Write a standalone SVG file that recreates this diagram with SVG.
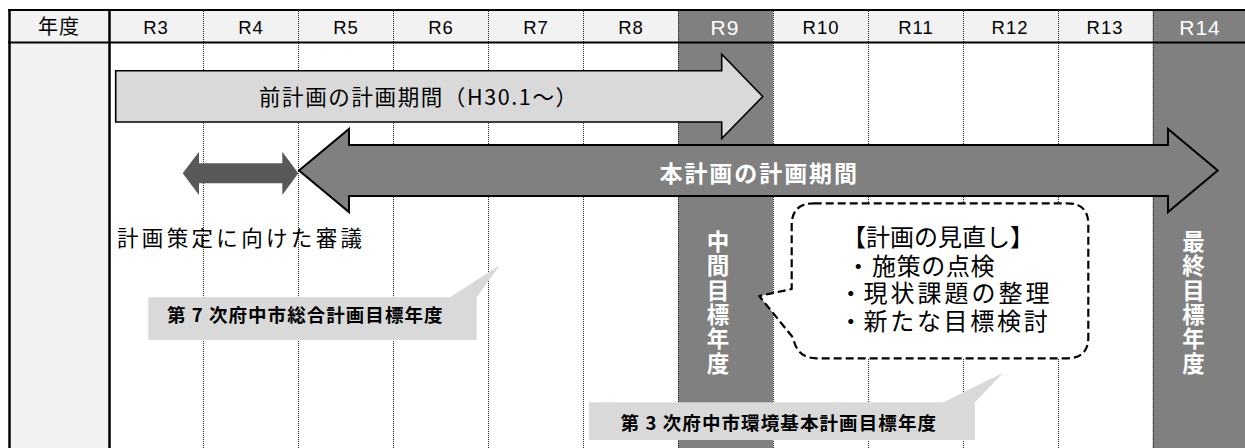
<svg xmlns="http://www.w3.org/2000/svg" width="1245" height="448" viewBox="0 0 1245 448">
<style>
.jp{font-family:"Noto Sans CJK JP","Noto Sans CJK SC",sans-serif;}
.hd{font-family:"Liberation Sans","Noto Sans CJK JP",sans-serif;font-size:18.5px;fill:#000;text-anchor:middle;letter-spacing:1px;}
.hdw{font-family:"Liberation Sans","Noto Sans CJK JP",sans-serif;font-size:21px;fill:#fff;text-anchor:middle;letter-spacing:1px;}
.grid{stroke:#222;stroke-width:1;stroke-dasharray:1 1;fill:none;}
.thick{stroke:#000;fill:none;}
.vt{font-family:"Noto Sans CJK JP",sans-serif;font-size:22.5px;font-weight:bold;fill:#fff;writing-mode:vertical-rl;letter-spacing:1.9px;}
.cb{font-family:"Noto Sans CJK JP",sans-serif;font-size:18.5px;font-weight:bold;fill:#000;}
.ct{font-family:"Liberation Sans","Noto Sans CJK JP",sans-serif;font-size:24px;fill:#000;}
</style>
<g id="background">
<rect x="0" y="0" width="1245" height="448" fill="#fff"/>
<rect x="109" y="10" width="1136" height="32.5" fill="#f2f2f2"/>
<rect x="9" y="10" width="100" height="438" fill="#f2f2f2"/>
<rect x="678" y="10" width="95" height="438" fill="#808080"/>
<rect x="1152.7" y="10" width="92.3" height="438" fill="#808080"/>
</g>
<g id="grid">
<path class="grid" d="M203.5,11V448M298.5,11V448M393.5,11V448M488.5,11V448M583.5,11V448M678.5,11V448M773.5,11V448M868.5,11V448M963.5,11V448M1058.5,11V448M1153.5,11V448"/>
<path class="thick" stroke-width="2" d="M8,10H1245M8,42.5H1245"/>
<path class="thick" stroke-width="2.5" d="M9.5,9V448M109.5,9V448"/>
</g>
<g id="header">
<text class="jp" x="59" y="34" font-size="20" text-anchor="middle" letter-spacing="1">年度</text>
<text class="hd" x="156" y="33.5">R3</text>
<text class="hd" x="251" y="33.5">R4</text>
<text class="hd" x="346" y="33.5">R5</text>
<text class="hd" x="441" y="33.5">R6</text>
<text class="hd" x="536" y="33.5">R7</text>
<text class="hd" x="631" y="33.5">R8</text>
<text class="hdw" x="725" y="34.5">R9</text>
<text class="hd" x="821" y="33.5">R10</text>
<text class="hd" x="916" y="33.5">R11</text>
<text class="hd" x="1010" y="33.5">R12</text>
<text class="hd" x="1105" y="33.5">R13</text>
<text class="hdw" x="1200" y="34.5">R14</text>
</g>
<g id="arrow-previous-plan">
<path d="M115.7,70.7H721.7V54.3L762.7,96.5L721.7,138.5V122H115.7Z" fill="#d9d9d9" stroke="#000" stroke-width="1.6"/>
<text class="jp" x="259" y="104.8" font-size="21.5" textLength="318" lengthAdjust="spacing">前計画の計画期間（H30.1～）</text>
</g>
<g id="arrow-deliberation">
<path d="M182.7,173.3L199,151.7V163.3H282.3V151.7L298.3,173.3L282.3,195V183.3H199V195Z" fill="#595959"/>
</g>
<g id="arrow-current-plan">
<path d="M299,170.5L349,129V145H1168V129L1217.7,170.5L1168,212V196H349V212Z" fill="#808080" stroke="#000" stroke-width="2"/>
<text class="jp" x="659.5" y="181.8" font-size="23" font-weight="bold" fill="#fff" textLength="197.5" lengthAdjust="spacing">本計画の計画期間</text>
</g>
<g id="label-deliberation">
<text class="jp" x="117" y="245.5" font-size="21.5" textLength="245" lengthAdjust="spacing">計画策定に向けた審議</text>
</g>
<g id="mid-target">
<text class="vt" x="718" y="230">中間目標年度</text>
</g>
<g id="final-target">
<text class="vt" x="1193.5" y="230">最終目標年度</text>
</g>
<g id="callout-total-plan">
<path d="M148.3,297.3H450L500,265L476.7,297.3V340H148.3Z" fill="#d9d9d9"/>
<text class="cb" x="167" y="322" textLength="275.5" lengthAdjust="spacing">第 7 次府中市総合計画目標年度</text>
</g>
<g id="callout-env-plan">
<path d="M589,402.3H943.3L1003.3,372.7L975,402.3V440H589Z" fill="#d9d9d9"/>
<text class="cb" x="620.5" y="430.3" textLength="315.5" lengthAdjust="spacing">第 3 次府中市環境基本計画目標年度</text>
</g>
<g id="callout-review">
<path d="M813.7,203.3H1067.3Q1088.3,203.3 1088.3,224.3V337.3Q1088.3,358.3 1067.3,358.3H816.5Q797,358.3 793.3,338L759.3,296L791.7,289V225.3Q791.7,203.3 813.7,203.3Z" fill="#fff" stroke="#000" stroke-width="2.2" stroke-dasharray="8 4" stroke-linejoin="round"/>
<text class="ct"><tspan x="842" y="246" textLength="192" lengthAdjust="spacing">【計画の見直し】</tspan><tspan x="846.3" y="275">・</tspan><tspan x="872" y="275" textLength="122.5" lengthAdjust="spacing">施策の点検</tspan><tspan x="838.7" y="302">・</tspan><tspan x="863.5" y="302" textLength="186" lengthAdjust="spacing">現状課題の整理</tspan><tspan x="838.7" y="330">・</tspan><tspan x="863.5" y="330" textLength="184.2" lengthAdjust="spacing">新たな目標検討</tspan></text>
</g>
</svg>
